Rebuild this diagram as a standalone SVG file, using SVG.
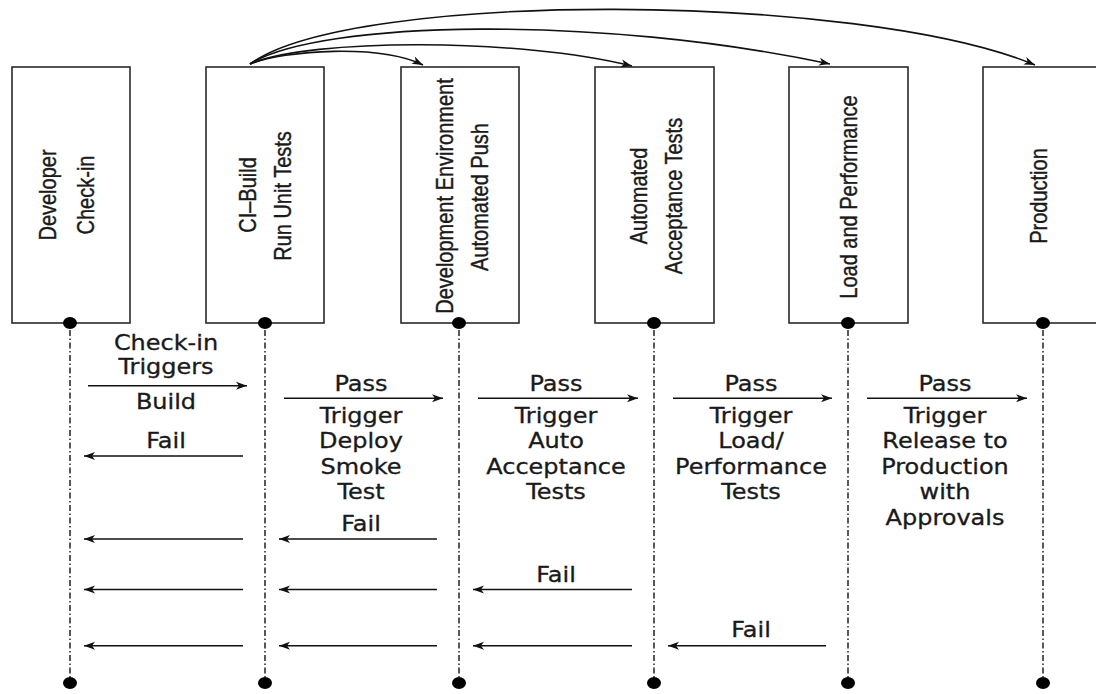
<svg xmlns="http://www.w3.org/2000/svg" width="1096" height="694" viewBox="0 0 1096 694">
<style>
.box{fill:#fff;stroke:#2a2a2a;stroke-width:1.6}
.life{stroke:#222;stroke-width:1.5;stroke-dasharray:6 2.5 1.5 2.5;fill:none}
.dot{fill:#000}
.bt{font-family:"Liberation Sans",Arial,sans-serif;font-size:20px;fill:#1a1a1a;stroke:#1a1a1a;stroke-width:0.35;text-anchor:middle}
.lt{font-family:"DejaVu Sans",Verdana,sans-serif;font-size:20.5px;fill:#1a1a1a;stroke:#1a1a1a;stroke-width:0.3;text-anchor:middle}
.arr{stroke:#111;stroke-width:1.5;fill:none;marker-end:url(#ah)}
.cur{stroke:#111;stroke-width:1.6;fill:none;marker-end:url(#ah)}
</style>
<defs>
<marker id="ah" markerUnits="userSpaceOnUse" markerWidth="14" markerHeight="10" refX="11" refY="5" orient="auto">
<path d="M0,1 L11,5 L0,9 L3,5 Z" fill="#111"/>
</marker>
</defs>
<rect width="1096" height="694" fill="#fff"/>

<g id="node-developer">
<rect class="box" x="12" y="67" width="118" height="256"/>
<text class="bt" transform="translate(56,195) scale(1.19,1) rotate(-90)">Developer</text>
<text class="bt" transform="translate(94,195) scale(1.19,1) rotate(-90)">Check-in</text>
<line class="life" x1="70" y1="330" x2="70" y2="677"/>
<ellipse class="dot" cx="70" cy="323" rx="7" ry="6"/>
<ellipse class="dot" cx="70" cy="683" rx="7" ry="6"/>
</g>

<g id="node-ci-build">
<rect class="box" x="206" y="67" width="118" height="256"/>
<text class="bt" transform="translate(256,195) scale(1.19,1) rotate(-90)">CI–Build</text>
<text class="bt" transform="translate(291,196) scale(1.19,1) rotate(-90)">Run Unit Tests</text>
<line class="life" x1="265" y1="330" x2="265" y2="677"/>
<ellipse class="dot" cx="265" cy="323" rx="7" ry="6"/>
<ellipse class="dot" cx="265" cy="683" rx="7" ry="6"/>
</g>

<g id="node-dev-env">
<rect class="box" x="401" y="67" width="118" height="256"/>
<text class="bt" transform="translate(453,196) scale(1.19,1) rotate(-90)">Development Environment</text>
<text class="bt" transform="translate(488,197) scale(1.19,1) rotate(-90)">Automated Push</text>
<line class="life" x1="459" y1="330" x2="459" y2="677"/>
<ellipse class="dot" cx="459" cy="323" rx="7" ry="6"/>
<ellipse class="dot" cx="459" cy="683" rx="7" ry="6"/>
</g>

<g id="node-acceptance">
<rect class="box" x="595" y="67" width="119" height="256"/>
<text class="bt" transform="translate(647,196) scale(1.19,1) rotate(-90)">Automated</text>
<text class="bt" transform="translate(682,196) scale(1.19,1) rotate(-90)">Acceptance Tests</text>
<line class="life" x1="654" y1="330" x2="654" y2="677"/>
<ellipse class="dot" cx="654" cy="323" rx="7" ry="6"/>
<ellipse class="dot" cx="654" cy="683" rx="7" ry="6"/>
</g>

<g id="node-load">
<rect class="box" x="789" y="67" width="119" height="256"/>
<text class="bt" transform="translate(857,197) scale(1.19,1) rotate(-90)">Load and Performance</text>
<line class="life" x1="848" y1="330" x2="848" y2="677"/>
<ellipse class="dot" cx="848" cy="323" rx="7" ry="6"/>
<ellipse class="dot" cx="848" cy="683" rx="7" ry="6"/>
</g>

<g id="node-production">
<rect class="box" x="983" y="67" width="125" height="256"/>
<text class="bt" transform="translate(1047,196) scale(1.19,1) rotate(-90)">Production</text>
<line class="life" x1="1043" y1="330" x2="1043" y2="677"/>
<ellipse class="dot" cx="1043" cy="323" rx="7" ry="6"/>
<ellipse class="dot" cx="1043" cy="683" rx="7" ry="6"/>
</g>

<g id="connectors">
<path class="cur" d="M250,64 C285,50 380,44 423,65"/>
<path class="cur" d="M250,64 C310,38 520,38 632,66"/>
<path class="cur" d="M250,64 C320,20 600,15 830,64"/>
<path class="cur" d="M250,64 C350,-10 860,-8 1035,65"/>

<line class="arr" x1="88" y1="385.7" x2="247" y2="385.7"/>
<line class="arr" x1="284" y1="398.3" x2="443" y2="398.3"/>
<line class="arr" x1="478" y1="398.3" x2="638" y2="398.3"/>
<line class="arr" x1="673" y1="398.3" x2="832" y2="398.3"/>
<line class="arr" x1="867" y1="398.3" x2="1027" y2="398.3"/>

<line class="arr" x1="243" y1="456" x2="84" y2="456"/>

<line class="arr" x1="243" y1="539" x2="84" y2="539"/>
<line class="arr" x1="437" y1="539" x2="279" y2="539"/>

<line class="arr" x1="243" y1="589.5" x2="84" y2="589.5"/>
<line class="arr" x1="437" y1="589.5" x2="279" y2="589.5"/>
<line class="arr" x1="632" y1="589.5" x2="473" y2="589.5"/>

<line class="arr" x1="243" y1="645.7" x2="84" y2="645.7"/>
<line class="arr" x1="437" y1="645.7" x2="279" y2="645.7"/>
<line class="arr" x1="632" y1="645.7" x2="473" y2="645.7"/>
<line class="arr" x1="826" y1="645.7" x2="668" y2="645.7"/>
</g>

<g id="labels">
<text class="lt" transform="translate(166,0) scale(1.17,1)"><tspan x="0" y="350">Check-in</tspan><tspan x="0" y="374.5">Triggers</tspan><tspan x="0" y="409.5">Build</tspan><tspan x="0" y="448.3">Fail</tspan></text>
<text class="lt" transform="translate(361,0) scale(1.17,1)"><tspan x="0" y="390.7">Pass</tspan><tspan x="0" y="422.7">Trigger</tspan><tspan x="0" y="448.3">Deploy</tspan><tspan x="0" y="474">Smoke</tspan><tspan x="0" y="499.5">Test</tspan><tspan x="0" y="530.7">Fail</tspan></text>
<text class="lt" transform="translate(556,0) scale(1.17,1)"><tspan x="0" y="390.7">Pass</tspan><tspan x="0" y="422.7">Trigger</tspan><tspan x="0" y="448.3">Auto</tspan><tspan x="0" y="474">Acceptance</tspan><tspan x="0" y="499.5">Tests</tspan><tspan x="0" y="581.7">Fail</tspan></text>
<text class="lt" transform="translate(751,0) scale(1.17,1)"><tspan x="0" y="390.7">Pass</tspan><tspan x="0" y="422.7">Trigger</tspan><tspan x="0" y="448.3">Load/</tspan><tspan x="0" y="474">Performance</tspan><tspan x="0" y="499.5">Tests</tspan><tspan x="0" y="636.7">Fail</tspan></text>
<text class="lt" transform="translate(945,0) scale(1.17,1)"><tspan x="0" y="390.7">Pass</tspan><tspan x="0" y="422.7">Trigger</tspan><tspan x="0" y="448.3">Release to</tspan><tspan x="0" y="474">Production</tspan><tspan x="0" y="499.5">with</tspan><tspan x="0" y="525">Approvals</tspan></text>
</g>
</svg>
